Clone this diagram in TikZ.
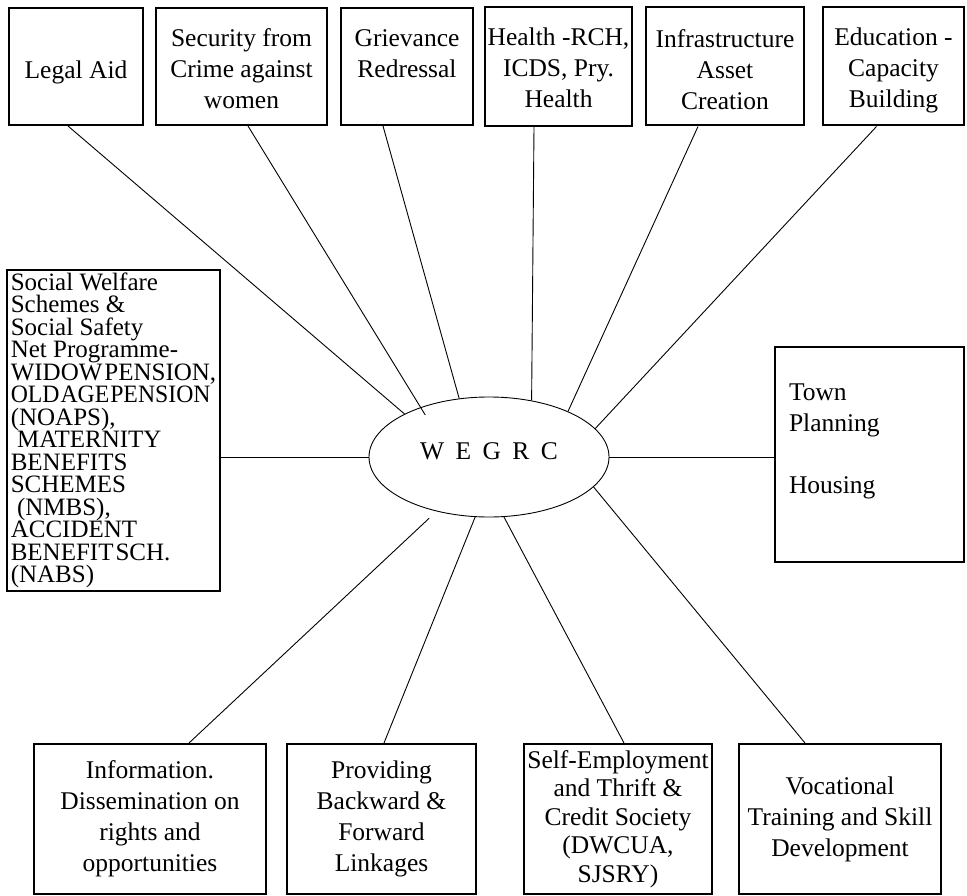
\documentclass[tikz,border=0pt]{standalone}
\usepackage{fontspec}
\setmainfont{Liberation Serif}
\usepackage{graphicx}
\usetikzlibrary{shapes.geometric}
\begin{document}
\begin{tikzpicture}[x=1pt,y=-1pt,
  box/.style={draw,line width=2pt,align=center,inner sep=0pt,font=\fontsize{25.5}{31}\selectfont},
  link/.style={line width=0.9pt}]
\useasboundingbox (0,0) rectangle (967,896);
% top row
\node[box,minimum width=134pt,minimum height=117pt] (legal) at (76,66.5) {\rule{0pt}{29pt}Legal Aid};
\node[box,minimum width=171pt,minimum height=117pt] (sec) at (241.5,66.5) {\rule{0pt}{23pt}Security from\\Crime against\\women};
\node[box,minimum width=132pt,minimum height=117pt] (griev) at (407,66.5) {\rule{0pt}{23pt}Grievance\\Redressal\\\mbox{}};
\node[box,minimum width=147pt,minimum height=119pt] (health) at (558.5,66.5) {\rule{0pt}{21pt}Health -RCH,\\ICDS, Pry.\\Health};
\node[box,minimum width=158pt,minimum height=118pt] (infra) at (725,66.5) {\rule{0pt}{25pt}Infrastructure\\Asset\\Creation};
\node[box,minimum width=141pt,minimum height=118pt] (edu) at (893.5,66.5) {\rule{0pt}{25pt}Education -\\Capacity\\Building};
% side boxes
\node[box,align=left,minimum width=211pt,minimum height=321pt,inner xsep=4pt,font=\fontsize{25}{22.5}\selectfont] (left) at (113.5,430.5)
 {Social Welfare\\Schemes \&\\Social Safety\\Net Programme-\\{\spaceskip=2pt WIDOW PENSION,}\\\scalebox{0.95}[1]{\spaceskip=1pt OLD AGE PENSION}\\(NOAPS),\\\hspace*{0.25em}MATERNITY\\BENEFITS\\SCHEMES\\\hspace*{0.25em}(NMBS),\\ACCIDENT\\{\spaceskip=2pt BENEFIT SCH.}\\(NABS)};
\node[box,align=left,minimum width=189pt,minimum height=215pt,text width=161pt,inner xsep=14pt] (town) at (869.5,454.5)
 {Town\\Planning\\[31pt]Housing\\\mbox{}};
% centre
\node[draw,ellipse,line width=0.9pt,minimum width=240pt,minimum height=120pt,inner sep=0pt,font=\fontsize{25.5}{31}\selectfont] (e) at (489,457)
 {\rule[-12pt]{0pt}{12pt}W\hspace{0.45em}E\hspace{0.45em}G\hspace{0.45em}R\hspace{0.45em}C};
% bottom row
\node[box,minimum width=232pt,minimum height=150pt] (info) at (150,819) {Information.\\Dissemination on\\rights and\\opportunities};
\node[box,minimum width=189pt,minimum height=150pt] (prov) at (381.5,819) {Providing\\Backward \&\\Forward\\Linkages};
\node[box,minimum width=188pt,minimum height=150pt,font=\fontsize{25.5}{28.5}\selectfont] (self) at (618,819) {Self-Employment\\and Thrift \&\\Credit Society\\(DWCUA,\\SJSRY)};
\node[box,minimum width=202pt,minimum height=150pt] (voc) at (840,819) {Vocational\\Training and Skill\\Development};
% connectors
\draw[link] ([xshift=-8pt]legal.south) -- (e.153);
\draw[link,shorten >=-9pt] ([xshift=6.5pt]sec.south) -- (e.144);
\draw[link] ([xshift=-24pt]griev.south) -- (e.117);
\draw[link] ([xshift=-24.5pt]health.south) -- (e.53);
\draw[link] ([xshift=-27pt]infra.south) -- (e.30);
\draw[link] ([xshift=-17pt]edu.south) -- (e.15);
\draw[link] (left.east |- e.west) -- (e.west);
\draw[link] (e.east) -- (e.east -| town.west);
\draw[link,shorten >=10pt] ([xshift=39pt]info.north) -- (e.226);
\draw[link] ([xshift=2.5pt]prov.north) -- (e.257);
\draw[link] ([xshift=6pt]self.north) -- (e.284);
\draw[link] ([xshift=-35pt]voc.north) -- (e.344);
\end{tikzpicture}
\end{document}
